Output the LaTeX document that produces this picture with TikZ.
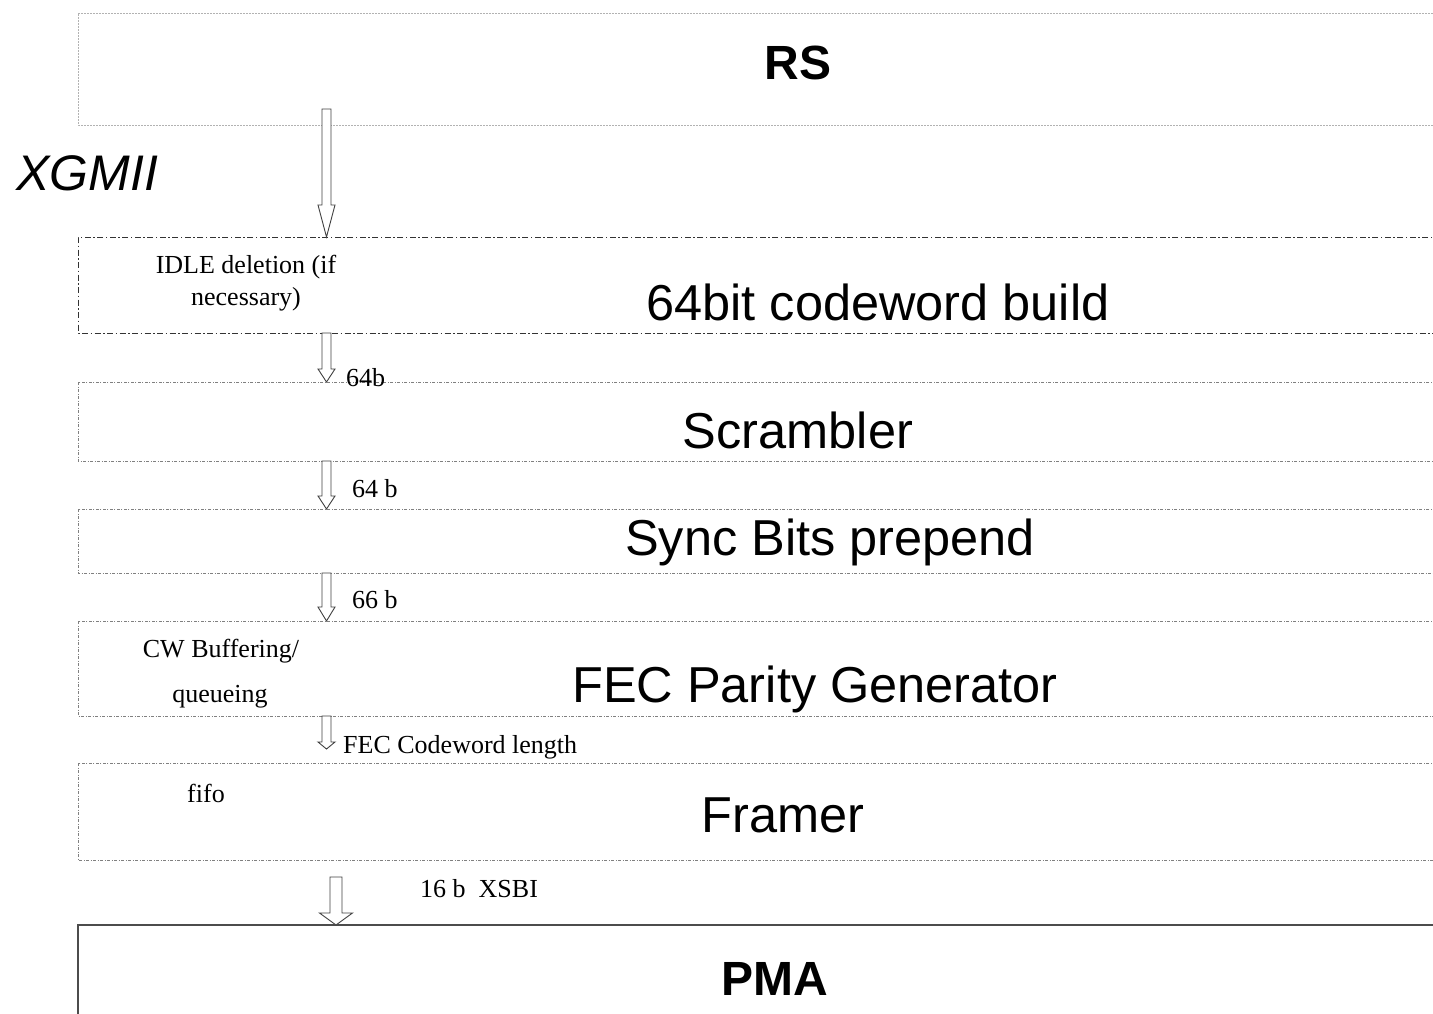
\documentclass[tikz,border=0pt]{standalone}
\usepackage{fontspec}
\setmainfont{Liberation Serif}
\setsansfont{Liberation Sans}
\usetikzlibrary{calc}
\tikzset{
 blk/.style={inner sep=0pt, outer sep=0pt, minimum width=1400pt, anchor=north west},
 blocktitle/.style={inner sep=0pt, anchor=base, font=\sffamily\fontsize{50.5}{60}\selectfont},
 boldtitle/.style={inner sep=0pt, anchor=base, font=\sffamily\bfseries\fontsize{48}{58}\selectfont},
 lbl/.style={inner sep=0pt, anchor=base, font=\fontsize{26}{30}\selectfont},
 lblw/.style={lbl, anchor=base west},
 rsline/.style={draw=black!30, line width=0.8pt, dash pattern=on 2pt off 1pt},
 majline/.style={draw=black!80, line width=0.9pt, dash pattern=on 6pt off 2.5pt on 1.5pt off 2.5pt},
 minline/.style={draw=black!50, line width=0.8pt, dash pattern=on 3pt off 1.5pt on 1pt off 1.5pt},
 pmaline/.style={draw=black!70, line width=1.2pt},
 harrow/.style={draw=black!75, line width=0.9pt, fill=white},
}
\newcommand\blockarrow[5]{%
 \draw[harrow] ($(#1)+(-#3,0)$) -- ($(#2)+(-#3,-#5)$) -- ($(#2)+(-#4,-#5)$) -- (#2)
   -- ($(#2)+(#4,-#5)$) -- ($(#2)+(#3,-#5)$) -- ($(#1)+(#3,0)$) -- cycle;}
\begin{document}
\begin{tikzpicture}[x=1pt,y=-1pt]
\useasboundingbox (0,0) rectangle (1433,1014);
% boxes (open to the right)
\node[blk, minimum height=112pt] (rs) at (78,13) {};
\node[blk, minimum height=96pt] (cw) at (78,237) {};
\node[blk, minimum height=79pt] (scr) at (78,382) {};
\node[blk, minimum height=64pt] (sync) at (78,509) {};
\node[blk, minimum height=95pt] (fec) at (78,621) {};
\node[blk, minimum height=97pt] (fr) at (78,763) {};
\node[blk, minimum height=110pt] (pma) at (78,925) {};

\draw[rsline] (rs.north east) -- (rs.north west) -- (rs.south west) -- (rs.south east);
\draw[majline] (cw.north east) -- (cw.north west) -- (cw.south west) -- (cw.south east);
\draw[minline] (scr.north east) -- (scr.north west) -- (scr.south west) -- (scr.south east);
\draw[minline] (sync.north east) -- (sync.north west) -- (sync.south west) -- (sync.south east);
\draw[minline] (fec.north east) -- (fec.north west) -- (fec.south west) -- (fec.south east);
\draw[minline] (fr.north east) -- (fr.north west) -- (fr.south west) -- (fr.south east);
\draw[pmaline] (pma.north east) -- (pma.north west) -- (pma.south west);

% titles
\node[boldtitle] (trs) at (798,80) {RS};
\node[inner sep=0pt, anchor=base west, font=\sffamily\itshape\fontsize{50}{60}\selectfont] (txg) at (16,190) {XGMII};
\node[blocktitle] (tcw) at (878,320) {64bit codeword build};
\node[blocktitle] (tscr) at (798,448) {Scrambler};
\node[blocktitle] (tsync) at (830,555) {Sync Bits prepend};
\node[blocktitle] (tfec) at (815,702) {FEC Parity Generator};
\node[blocktitle] (tfr) at (783,832) {Framer};
\node[boldtitle] (tpma) at (775,995) {PMA};

% small labels
\node[lbl] (idle1) at (246,273) {IDLE deletion (if};
\node[lbl] (idle2) at (246,305) {necessary)};
\node[lblw] (l64a) at (346,386) {64b};
\node[lblw] (l64b) at (352,497) {64 b};
\node[lblw] (l66) at (352,608) {66 b};
\node[lbl] (cwb1) at (221,657) {CW Buffering/};
\node[lbl] (cwb2) at (220,702) {queueing};
\node[lblw] (lfec) at (343,753) {FEC Codeword length};
\node[lbl] (fifo) at (206,802) {fifo};
\node[lblw] (lxsbi) at (420,897) {16 b\ \ XSBI};

% arrow coordinates
\coordinate (a1s) at ($(rs.south west)+(248.5,-16)$);
\coordinate (a1t) at ($(cw.north west)+(248.5,0)$);
\coordinate (a2s) at ($(cw.south west)+(248.5,0)$);
\coordinate (a2t) at ($(scr.north west)+(248.5,0)$);
\coordinate (a3s) at ($(scr.south west)+(248.5,0)$);
\coordinate (a3t) at ($(sync.north west)+(248.5,0)$);
\coordinate (a4s) at ($(sync.south west)+(248.5,0)$);
\coordinate (a4t) at ($(fec.north west)+(248.5,0)$);
\coordinate (a5s) at ($(fec.south west)+(248.5,0)$);
\coordinate (a5t) at ($(fec.south west)+(248.5,33)$);
\coordinate (a6s) at ($(fr.south west)+(258,17)$);
\coordinate (a6t) at ($(pma.north west)+(258,0)$);

\blockarrow{a1s}{a1t}{4.5}{8.5}{32}
\blockarrow{a2s}{a2t}{4.5}{8.5}{13}
\blockarrow{a3s}{a3t}{4.5}{8.5}{13}
\blockarrow{a4s}{a4t}{4.5}{8.5}{14}
\blockarrow{a5s}{a5t}{4.5}{8.5}{7}
\blockarrow{a6s}{a6t}{6}{16.5}{12}
\end{tikzpicture}
\end{document}
